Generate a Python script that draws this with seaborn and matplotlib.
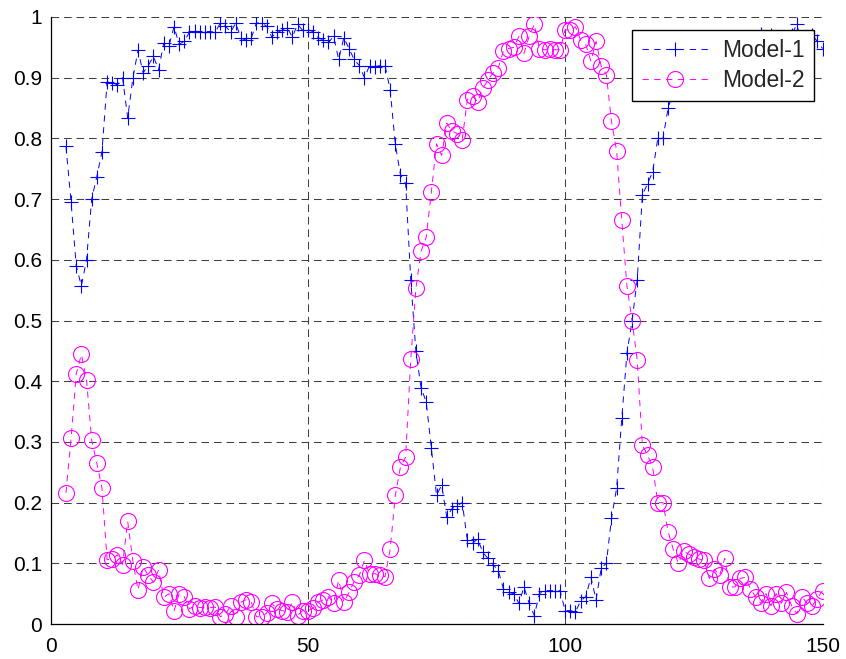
import numpy as np
import pandas as pd
import seaborn as sns
import matplotlib.pyplot as plt

# sample index (the curves start at 3)
x_vals = np.arange(3, 151)

model1 = [
    0.787, 0.695, 0.590, 0.557, 0.600, 0.700, 0.737, 0.778, 0.893, 0.892,
    0.888, 0.900, 0.834, 0.899, 0.945, 0.908, 0.920, 0.935, 0.913, 0.957,
    0.952, 0.984, 0.955, 0.960, 0.975, 0.977, 0.975, 0.976, 0.976, 0.975,
    0.990, 0.985, 0.975, 0.990, 0.965, 0.962, 0.965, 0.990, 0.990, 0.985,
    0.967, 0.975, 0.978, 0.982, 0.967, 0.988, 0.978, 0.979, 0.976, 0.966,
    0.962, 0.958, 0.968, 0.930, 0.966, 0.948, 0.930, 0.920, 0.900, 0.920,
    0.918, 0.920, 0.920, 0.880, 0.790, 0.740, 0.726, 0.567, 0.449, 0.389,
    0.366, 0.290, 0.212, 0.229, 0.176, 0.190, 0.195, 0.200, 0.138, 0.133,
    0.140, 0.118, 0.108, 0.098, 0.088, 0.058, 0.052, 0.050, 0.034, 0.061,
    0.034, 0.014, 0.050, 0.055, 0.055, 0.055, 0.055, 0.022, 0.022, 0.020,
    0.038, 0.045, 0.077, 0.040, 0.092, 0.100, 0.174, 0.224, 0.339, 0.446,
    0.500, 0.567, 0.707, 0.725, 0.745, 0.800, 0.800, 0.850, 0.877, 0.900,
    0.880, 0.885, 0.890, 0.893, 0.895, 0.925, 0.910, 0.920, 0.892, 0.939,
    0.939, 0.925, 0.923, 0.942, 0.955, 0.972, 0.950, 0.970, 0.950, 0.966,
    0.948, 0.970, 0.988, 0.955, 0.966, 0.970, 0.960, 0.948,
]

model2 = [
    0.216, 0.306, 0.412, 0.444, 0.402, 0.303, 0.265, 0.224, 0.106, 0.107,
    0.114, 0.098, 0.169, 0.104, 0.056, 0.094, 0.080, 0.069, 0.089, 0.044,
    0.050, 0.021, 0.050, 0.045, 0.025, 0.030, 0.027, 0.028, 0.027, 0.028,
    0.012, 0.016, 0.030, 0.012, 0.036, 0.040, 0.036, 0.012, 0.012, 0.018,
    0.034, 0.025, 0.022, 0.020, 0.036, 0.014, 0.022, 0.022, 0.026, 0.036,
    0.040, 0.045, 0.035, 0.072, 0.036, 0.052, 0.070, 0.080, 0.105, 0.082,
    0.083, 0.080, 0.078, 0.123, 0.212, 0.259, 0.275, 0.436, 0.553, 0.614,
    0.637, 0.712, 0.791, 0.772, 0.825, 0.812, 0.808, 0.798, 0.864, 0.870,
    0.860, 0.883, 0.896, 0.908, 0.916, 0.944, 0.948, 0.950, 0.968, 0.940,
    0.968, 0.988, 0.948, 0.946, 0.948, 0.946, 0.946, 0.979, 0.978, 0.984,
    0.962, 0.955, 0.927, 0.960, 0.919, 0.905, 0.828, 0.779, 0.665, 0.557,
    0.500, 0.435, 0.295, 0.278, 0.258, 0.200, 0.200, 0.152, 0.123, 0.100,
    0.120, 0.115, 0.110, 0.107, 0.105, 0.075, 0.090, 0.080, 0.108, 0.061,
    0.061, 0.075, 0.077, 0.058, 0.045, 0.034, 0.050, 0.030, 0.050, 0.034,
    0.052, 0.030, 0.017, 0.045, 0.034, 0.030, 0.042, 0.055,
]

xticks = [0, 50, 100, 150]
yticks = [0, 0.1, 0.2, 0.3, 0.4, 0.5, 0.6, 0.7, 0.8, 0.9, 1]
ytick_labels = ['0', '0.1', '0.2', '0.3', '0.4', '0.5', '0.6', '0.7', '0.8', '0.9', '1']

sns.set_style('white')
plt.rcParams['font.family'] = ['Liberation Sans', 'DejaVu Sans']
plt.rcParams['lines.scale_dashes'] = False

df = pd.DataFrame({'x': x_vals, 'Model-1': model1, 'Model-2': model2})

fig = plt.figure(figsize=(8.46, 6.59), dpi=100)
ax = fig.add_axes([50.5 / 846, 35 / 659, 772 / 846, 607 / 659])

sns.lineplot(data=df, x='x', y='Model-1', ax=ax, color='#0000ff', linewidth=0.7,
             linestyle=(0, (4.5, 4)), marker='+', markersize=9.5, mec='#0000ff', mew=0.8,
             label='Model-1', errorbar=None)
sns.lineplot(data=df, x='x', y='Model-2', ax=ax, color='#ff00ff', linewidth=0.7,
             linestyle=(0, (4.5, 4)), marker='o', markersize=11.5, mfc='none', mec='#ff00ff', mew=0.8,
             label='Model-2', errorbar=None)

ax.set_xlim(0, 150)
ax.set_ylim(0, 1)
ax.set_xticks(xticks)
ax.set_xticklabels([str(t) for t in xticks])
ax.set_yticks(yticks)
ax.set_yticklabels(ytick_labels)
ax.set_xlabel('')
ax.set_ylabel('')

ax.grid(True, color='#404040', linestyle=(0, (5.5, 3.5)), linewidth=0.75)
ax.set_axisbelow(True)
for side in ['top', 'right']:
    ax.spines[side].set_visible(False)
for side in ['left', 'bottom']:
    ax.spines[side].set_color('black')
    ax.spines[side].set_linewidth(0.9)

ax.tick_params(axis='both', direction='in', length=5, width=0.8, colors='black', labelsize=15)
ax.tick_params(axis='x', pad=9)
ax.tick_params(axis='y', pad=6)

leg = ax.legend(loc='upper right', bbox_to_anchor=(0.989, 0.979), borderaxespad=0,
                fontsize=16.5, frameon=True, fancybox=False, framealpha=1,
                edgecolor='black', handlelength=2.9, numpoints=1,
                labelspacing=0.28, handletextpad=0.6, borderpad=0.42)
leg.get_frame().set_linewidth(1.0)

fig.savefig('out.png', dpi=100)
